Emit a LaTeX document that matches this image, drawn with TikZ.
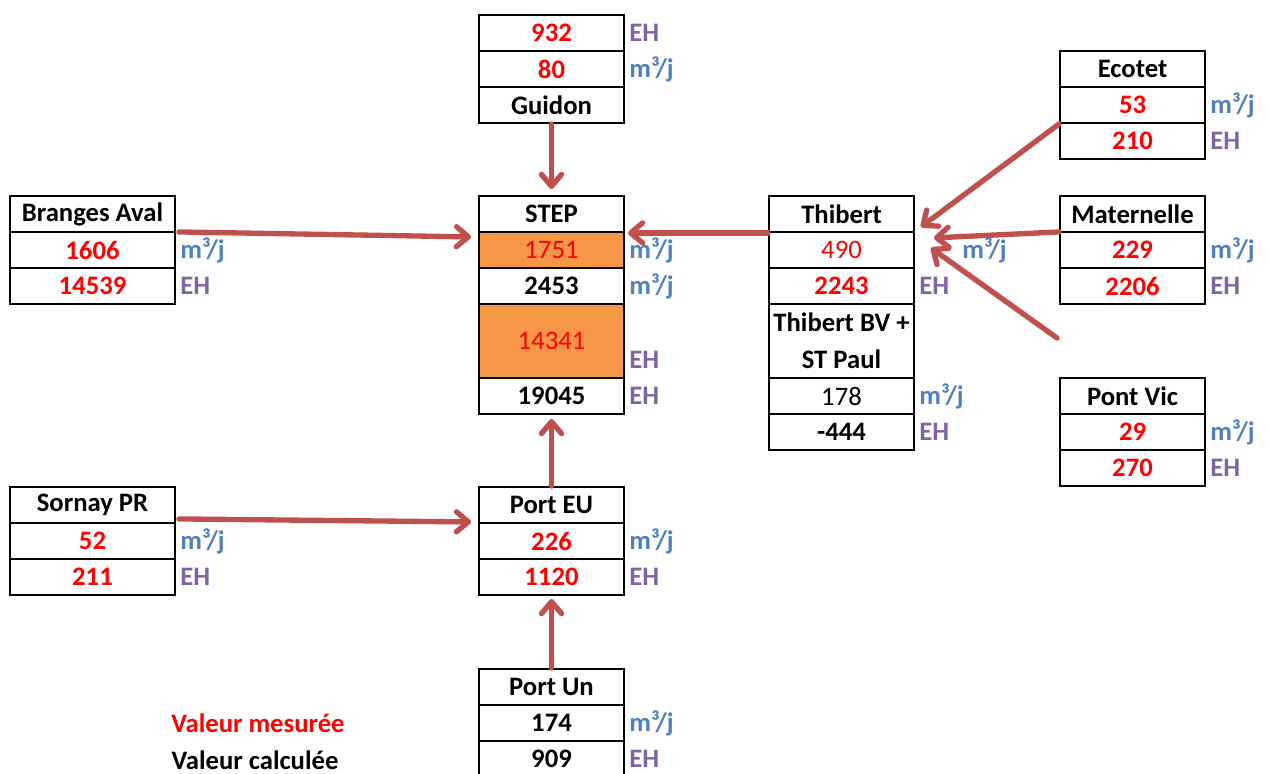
\documentclass[tikz,border=0pt]{standalone}
\usepackage{fontspec}
\setmainfont{Carlito}
\usetikzlibrary{arrows.meta,calc}
\definecolor{mred}{HTML}{FF0000}
\definecolor{ublue}{HTML}{4F81BD}
\definecolor{upurple}{HTML}{8064A2}
\definecolor{cfill}{HTML}{F79646}
\definecolor{arrc}{HTML}{C0504D}
\begin{document}
\begin{tikzpicture}[x=0.75pt,y=-0.75pt,
  cell/.style={draw=black,line width=1.4pt,minimum width=108.75pt,minimum height=27pt,inner sep=0pt,font=\fontsize{20}{22}\selectfont\bfseries,text=black},
  wcell/.style={cell,minimum width=123.75pt},
  tall/.style={minimum height=55.5pt},
  meas/.style={text=mred},
  measr/.style={text=mred,font=\fontsize{20}{22}\selectfont},
  filled/.style={fill=cfill},
  ublk/.style={anchor=west,inner sep=0pt,font=\fontsize{20}{22}\selectfont\bfseries},
  flow/.style={ublk,text=ublue},
  load/.style={ublk,text=upurple},
  arr/.style={draw=arrc,line width=4pt,line cap=round,-{Straight Barb[length=9pt,width=15pt,line width=4pt,round]}},
  legend/.style={font=\fontsize{20}{22}\selectfont\bfseries}]
\clip (0,0) rectangle (1270,774);
\useasboundingbox (0,0) rectangle (1270,774);
% Guidon
\node[cell,meas] (g1) at (551.5,33) {932};
\node[cell,meas] (g2) at (551.5,69) {80};
\node[cell] (g3) at (551.5,105) {Guidon};
\node[load] (gu1) at (629,33) {EH};
\node[flow] (gu2) at (629,69) {m³/j};
% STEP
\node[cell] (s0) at (551.5,214) {STEP};
\node[cell,measr,filled] (s1) at (551.5,250) {1751};
\node[cell] (s2) at (551.5,286) {2453};
\node[cell,measr,filled,tall] (s3) at (551.5,341) {14341};
\node[cell] (s4) at (551.5,396) {19045};
\node[flow] (su1) at (629,250) {m³/j};
\node[flow] (su2) at (629,286) {m³/j};
\node[load] (su3) at (629,360) {EH};
\node[load] (su4) at (629,396) {EH};
% Branges Aval
\node[wcell] (b0) at (92.5,214) {Branges Aval};
\node[wcell,meas] (b1) at (92.5,250) {1606};
\node[wcell,meas] (b2) at (92.5,286) {14539};
\node[flow] (bu1) at (180,250) {m³/j};
\node[load] (bu2) at (180,286) {EH};
% Sornay PR
\node[wcell] (r0) at (92.5,505) {Sornay PR};
\node[wcell,meas] (r1) at (92.5,541) {52};
\node[wcell,meas] (r2) at (92.5,577) {211};
\node[flow] (ru1) at (180,541) {m³/j};
\node[load] (ru2) at (180,577) {EH};
% Port EU
\node[cell] (p0) at (551.5,505) {Port EU};
\node[cell,meas] (p1) at (551.5,541) {226};
\node[cell,meas] (p2) at (551.5,577) {1120};
\node[flow] (pu1) at (629,541) {m³/j};
\node[load] (pu2) at (629,577) {EH};
% Port Un
\node[cell] (u0) at (551.5,687) {Port Un};
\node[cell] (u1) at (551.5,723) {174};
\node[cell] (u2) at (551.5,759) {909};
\node[flow] (uu1) at (629,723) {m³/j};
\node[load] (uu2) at (629,759) {EH};
% Thibert
\node[cell] (t0) at (841.5,214) {Thibert};
\node[cell,measr] (t1) at (841.5,250) {490};
\node[cell,meas] (t2) at (841.5,286) {2243};
\node[cell,tall,align=center,font=\fontsize{20}{27.5}\selectfont\bfseries] (t3) at (841.5,341) {Thibert BV +\\ST Paul};
\node[cell,font=\fontsize{20}{22}\selectfont] (t4) at (841.5,396) {178};
\node[cell] (t5) at (841.5,432) {-444};
\node[flow] (tu1) at (962,250) {m³/j};
\node[load] (tu2) at (919,286) {EH};
\node[flow] (tu4) at (919,396) {m³/j};
\node[load] (tu5) at (919,432) {EH};
% Ecotet
\node[cell] (e0) at (1132.5,69) {Ecotet};
\node[cell,meas] (e1) at (1132.5,105) {53};
\node[cell,meas] (e2) at (1132.5,141) {210};
\node[flow] (eu1) at (1210,105) {m³/j};
\node[load] (eu2) at (1210,141) {EH};
% Maternelle
\node[cell] (m0) at (1132.5,214) {Maternelle};
\node[cell,meas] (m1) at (1132.5,250) {229};
\node[cell,meas] (m2) at (1132.5,286) {2206};
\node[flow] (mu1) at (1210,250) {m³/j};
\node[load] (mu2) at (1210,286) {EH};
% Pont Vic
\node[cell] (v0) at (1132.5,396) {Pont Vic};
\node[cell,meas] (v1) at (1132.5,432) {29};
\node[cell,meas] (v2) at (1132.5,468) {270};
\node[flow] (vu1) at (1210,432) {m³/j};
\node[load] (vu2) at (1210,468) {EH};
% legend
\node[legend,text=mred] (l1) at (258,723) {Valeur mesurée};
\node[legend,text=black] (l2) at (255,760) {Valeur calculée};
% arrows
\coordinate (pvstart) at (1057,338);
\draw[arr] (g3.south) -- ($(s0.north)+(0,-6)$);
\draw[arr] ($(b0.south east)+(3,-1)$) -- ($(s0.south west)+(-7,4)$);
\draw[arr] (t0.south west) -- ($(s0.south east)+(3,0)$);
\draw[arr] (p0.north) -- ($(s4.south)+(0,4)$);
\draw[arr] ($(r0.south east)+(3,-5)$) -- ($(p0.south west)+(-7,-2)$);
\draw[arr] (u0.north) -- ($(p2.south)+(0,3)$);
\draw[arr] (e1.south west) -- ($(t0.south east)+(6,-6)$);
\draw[arr] ($(m0.south west)+(0,-1)$) -- ($(t0.south east)+(19,5)$);
\draw[arr] (pvstart) -- ($(t0.south east)+(16,15)$);
\end{tikzpicture}
\end{document}
